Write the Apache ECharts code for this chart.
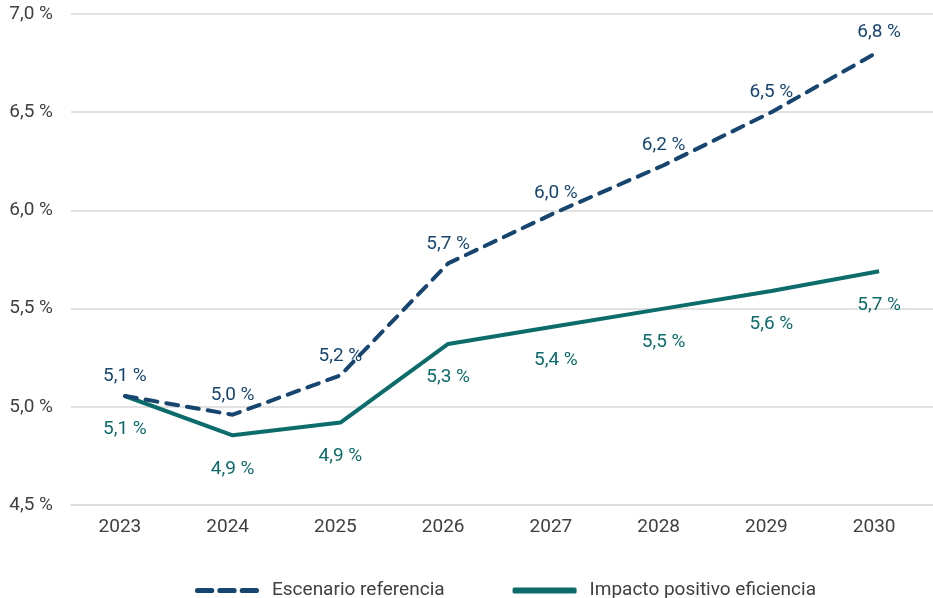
<!DOCTYPE html>
<html lang="es">
<head>
    <meta charset="UTF-8">
    <title>Escenarios</title>
    <style>
        html, body { margin: 0; padding: 0; background: #fff; }
        #main { width: 933px; height: 598px; }
    </style>
    <script src="https://cdn.jsdelivr.net/npm/echarts@6/dist/echarts.min.js"></script>
</head>
<body>
<div id="main"></div>
<script>
    var years = ['2023', '2024', '2025', '2026', '2027', '2028', '2029', '2030'];
    var referencia = [5.055, 4.96, 5.16, 5.73, 5.99, 6.23, 6.50, 6.81];
    var eficiencia = [5.055, 4.855, 4.92, 5.32, 5.41, 5.50, 5.59, 5.69];
    var yTicks = [4.5, 5.0, 5.5, 6.0, 6.5, 7.0];

    var navy = '#164570';
    var teal = '#0c6b6b';
    var font = 'Roboto';

    function pct(v) {
        return (Math.round(v * 10) / 10).toFixed(1).replace('.', ',') + ' %';
    }

    var myChart = echarts.init(document.getElementById('main'));

    var option = {
        animation: false,
        grid: { left: 71, right: -7, top: 14, bottom: 93 },
        legend: {
            top: 576,
            left: 190,
            itemWidth: 64,
            itemHeight: 6,
            itemGap: 68,
            textStyle: { color: '#404040', fontSize: 19, fontFamily: font, padding: [0, 0, 0, 8] },
            data: [
                { name: 'Escenario referencia', icon: 'path://M2,0h14a2,2 0 0 1 0,5h-14a2,2 0 0 1 0,-5z M24,0h14a2,2 0 0 1 0,5h-14a2,2 0 0 1 0,-5z M46,0h14a2,2 0 0 1 0,5h-14a2,2 0 0 1 0,-5z' },
                { name: 'Impacto positivo eficiencia', icon: 'roundRect' }
            ]
        },
        xAxis: {
            type: 'category',
            data: years,
            boundaryGap: true,
            axisLine: { lineStyle: { color: '#d9d9d9', width: 1.5 } },
            axisTick: { show: false },
            axisLabel: { color: '#404040', fontSize: 19, fontFamily: font, margin: 22, verticalAlign: 'middle', padding: [0, 10, 0, 0] }
        },
        yAxis: {
            type: 'value',
            min: yTicks[0],
            max: yTicks[yTicks.length - 1],
            interval: 0.5,
            axisLine: { show: false },
            axisTick: { show: false },
            splitLine: { lineStyle: { color: '#d9d9d9', width: 1.5 } },
            axisLabel: {
                color: '#404040', fontSize: 19, fontFamily: font, margin: 18,
                formatter: function (v) { return pct(v); }
            }
        },
        series: [
            {
                name: 'Escenario referencia',
                type: 'line',
                data: referencia,
                symbol: 'circle',
                symbolSize: 0.1,
                showSymbol: true,
                lineStyle: { color: navy, width: 4, type: [12, 9], cap: 'round' },
                itemStyle: { color: navy },
                label: {
                    show: true, position: 'top', distance: 10,
                    color: navy, fontSize: 19, fontFamily: font,
                    formatter: function (p) { return pct(p.value); }
                },
                z: 3
            },
            {
                name: 'Impacto positivo eficiencia',
                type: 'line',
                data: eficiencia,
                symbol: 'circle',
                symbolSize: 0.1,
                showSymbol: true,
                lineStyle: { color: teal, width: 4 },
                itemStyle: { color: teal },
                label: {
                    show: true, position: 'bottom', distance: 24,
                    color: teal, fontSize: 19, fontFamily: font,
                    formatter: function (p) { return pct(p.value); }
                },
                z: 2
            }
        ]
    };

    myChart.setOption(option);
</script>
</body>
</html>
